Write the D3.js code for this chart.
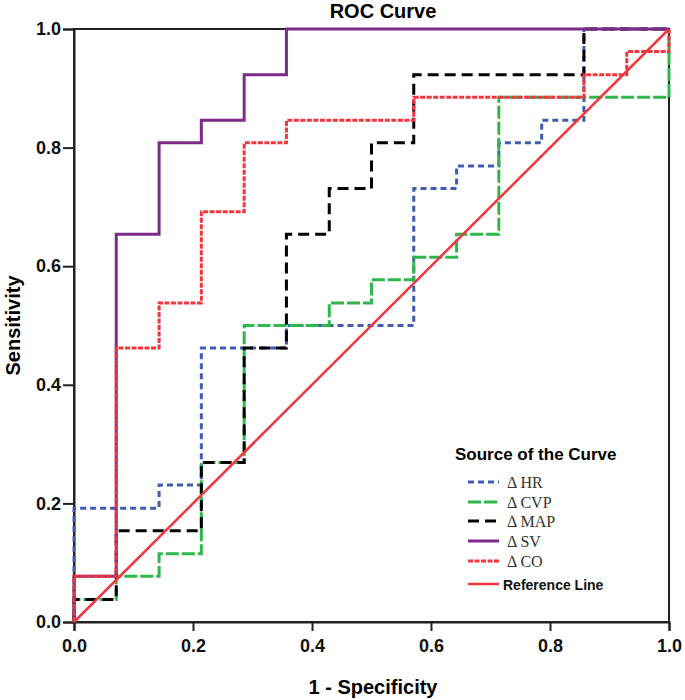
<!DOCTYPE html>
<html>
<head>
<meta charset="utf-8">
<script src="https://cdn.jsdelivr.net/npm/d3@7"></script>
<style>
  body { margin: 0; background: #fff; }
</style>
</head>
<body>
<div id="chart"></div>
<script>
// ROC points (corner after each vertical rise)
let hrFpr  = [0, 0, 0.143, 0.214, 0.357, 0.571, 0.643, 0.714, 0.786, 0.857, 1];
let hrTpr  = [0, 0.192, 0.231, 0.462, 0.5, 0.731, 0.769, 0.808, 0.846, 1, 1];
let cvpFpr = [0, 0, 0.071, 0.143, 0.214, 0.286, 0.429, 0.5, 0.571, 0.643, 0.714, 1, 1];
let cvpTpr = [0, 0.038, 0.077, 0.115, 0.269, 0.5, 0.538, 0.577, 0.615, 0.654, 0.885, 0.885, 1];
let mapFpr = [0, 0, 0.071, 0.214, 0.286, 0.357, 0.429, 0.5, 0.571, 0.857, 1];
let mapTpr = [0, 0.038, 0.154, 0.269, 0.462, 0.654, 0.731, 0.808, 0.923, 1, 1];
let svFpr  = [0, 0, 0.071, 0.143, 0.214, 0.286, 0.357, 1];
let svTpr  = [0, 0.077, 0.654, 0.808, 0.846, 0.923, 1, 1];
let coFpr  = [0, 0, 0.071, 0.143, 0.214, 0.286, 0.357, 0.571, 0.857, 0.929, 1, 1];
let coTpr  = [0, 0.077, 0.462, 0.538, 0.692, 0.808, 0.846, 0.885, 0.923, 0.962, 0.962, 1];
let refFpr = [0, 1];
let refTpr = [0, 1];

let seriesNames = ["\u0394HR", "\u0394CVP", "\u0394MAP", "\u0394SV", "\u0394CO", "Reference Line"];
let ticks = [0, 0.2, 0.4, 0.6, 0.8, 1.0];

let colors = ["#3f5db3", "#2eb84b", "#000000", "#7d2a88", "#f2363d", "#f2363d"];
let dashes = ["6,4", "13,3", "11,6", null, "5,1.5", null];
let widths = [3, 3, 3, 3, 3, 2.5];

let W = 685, H = 700;
let margin = { left: 74, right: 16, top: 29, bottom: 78 };

function draw() {
  let svg = d3.select("#chart")
    .append("svg")
    .attr("width", W)
    .attr("height", H)
    .style("font-family", "'Liberation Sans', Arial, sans-serif");

  let x = d3.scaleLinear().domain([0, 1]).range([margin.left, W - margin.right]);
  let y = d3.scaleLinear().domain([0, 1]).range([H - margin.bottom, margin.top]);

  /* ------------------ frame + axes ------------------ */
  svg.append("rect")
    .attr("x", x(0)).attr("y", y(1))
    .attr("width", x(1) - x(0)).attr("height", y(0) - y(1))
    .attr("fill", "none").attr("stroke", "#222").attr("stroke-width", 2);

  let xAxis = svg.append("g")
    .attr("transform", `translate(0,${y(0)})`)
    .call(d3.axisBottom(x).tickValues(ticks).tickFormat(d3.format(".1f")).tickSize(9).tickPadding(8));
  let yAxis = svg.append("g")
    .attr("transform", `translate(${x(0)},0)`)
    .call(d3.axisLeft(y).tickValues(ticks).tickFormat(d3.format(".1f")).tickSize(11).tickPadding(2));

  [xAxis, yAxis].forEach(g => {
    g.select(".domain").attr("stroke", "#222").attr("stroke-width", 2);
    g.selectAll(".tick line").attr("stroke", "#222").attr("stroke-width", 2);
    g.selectAll(".tick text")
      .attr("fill", "#111")
      .style("font-size", "18px")
      .style("font-weight", "bold")
      .style("font-family", "'Liberation Sans', Arial, sans-serif");
  });

  /* ------------------ curves ------------------ */
  let allFpr = [hrFpr, cvpFpr, mapFpr, svFpr, coFpr, refFpr];
  let allTpr = [hrTpr, cvpTpr, mapTpr, svTpr, coTpr, refTpr];

  let stepLine = d3.line().x(d => x(d[0])).y(d => y(d[1])).curve(d3.curveStepAfter);
  let straight = d3.line().x(d => x(d[0])).y(d => y(d[1]));

  allFpr.forEach((fpr, i) => {
    let pts = fpr.map((v, j) => [v, allTpr[i][j]]);
    svg.append("path")
      .attr("d", i === 5 ? straight(pts) : stepLine(pts))
      .attr("fill", "none")
      .attr("stroke", colors[i])
      .attr("stroke-width", widths[i])
      .attr("stroke-dasharray", dashes[i]);
  });

  /* ------------------ titles ------------------ */
  svg.append("text")
    .attr("x", 383).attr("y", 18)
    .attr("text-anchor", "middle")
    .style("font-size", "20px").style("font-weight", "bold")
    .text("ROC Curve");

  svg.append("text")
    .attr("x", 373).attr("y", 694)
    .attr("text-anchor", "middle")
    .style("font-size", "20px").style("font-weight", "bold")
    .text("1 - Specificity");

  svg.append("text")
    .attr("transform", `translate(20,${(y(0) + y(1)) / 2}) rotate(-90)`)
    .attr("text-anchor", "middle")
    .style("font-size", "20px").style("font-weight", "bold")
    .text("Sensitivity");

  /* ------------------ legend ------------------ */
  let lg = svg.append("g");
  lg.append("text")
    .attr("x", 455).attr("y", 460)
    .style("font-size", "17px").style("font-weight", "bold")
    .text("Source of the Curve");

  let rowY = [482, 502, 521, 541, 561, 584];
  seriesNames.forEach((name, i) => {
    lg.append("line")
      .attr("x1", 468).attr("x2", 499)
      .attr("y1", rowY[i]).attr("y2", rowY[i])
      .attr("stroke", colors[i])
      .attr("stroke-width", widths[i])
      .attr("stroke-dasharray", dashes[i]);
    let t = lg.append("text")
      .attr("x", i === 5 ? 503 : 507)
      .attr("y", rowY[i] + 6);
    if (i === 5) {
      t.style("font-size", "14px").style("font-weight", "bold").attr("fill", "#111").text(name);
    } else {
      t.style("font-family", "'Liberation Serif', 'DejaVu Serif', serif")
        .style("font-size", "16px").attr("fill", "#333")
        .text(name.replace("\u0394", "\u0394 "));
    }
  });
}

draw();
</script>
</body>
</html>
